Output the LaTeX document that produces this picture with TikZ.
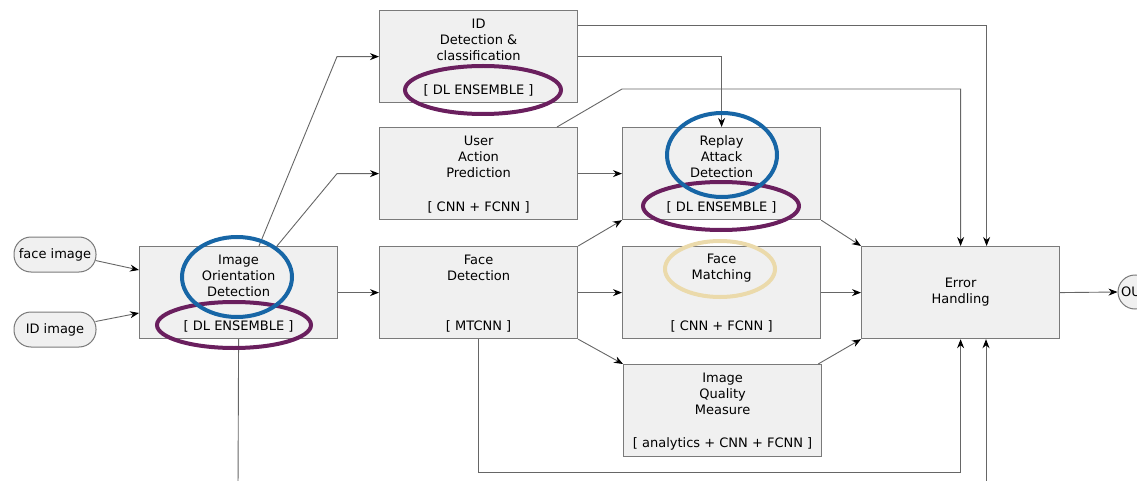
\documentclass[tikz,border=0pt]{standalone}
\usepackage{fontspec}
\setmainfont{DejaVu Sans}
\usetikzlibrary{arrows.meta,calc}
\definecolor{boxfill}{HTML}{F0F0F0}
\definecolor{boxline}{HTML}{7A7A7A}
\definecolor{wirec}{HTML}{666666}
\definecolor{hlblue}{HTML}{1766A6}
\definecolor{hlpurple}{HTML}{6A1F5E}
\definecolor{hltan}{HTML}{EBDAAB}
\begin{document}
\begin{tikzpicture}[x=1pt,y=-1pt,
  stage/.style={draw=boxline, fill=boxfill, line width=1.2pt, minimum width=198pt, minimum height=92pt, anchor=north west, inner sep=0pt},
  pill/.style={draw=boxline, fill=boxfill, line width=1pt, rounded corners=17pt, minimum width=82pt, minimum height=35pt, inner sep=0pt},
  txt/.style={align=center, font=\fontsize{13}{16}\selectfont, inner sep=0pt},
  wire/.style={draw=wirec, line width=0.9pt, -{Stealth[length=9pt,width=7pt,black]}},
  plainwire/.style={draw=wirec, line width=0.9pt},
  hl/.style={line width=4pt}]
\useasboundingbox (0,0) rectangle (1137,481);
\clip (0,0) rectangle (1137,481);

% boxes
\node[stage] (idd) at (379,10) {};
\node[stage] (uap) at (379,127) {};
\node[stage] (rad) at (622,127) {};
\node[stage] (iod) at (139,246) {};
\node[stage] (fd)  at (379,246) {};
\node[stage] (fm)  at (622,246) {};
\node[stage] (eh)  at (861,246) {};
\node[stage] (iqm) at (623,364) {};
\node[pill, txt] (face) at (55,254.5) {face image};
\node[pill, txt] (idimg) at (55,329.5) {ID image};
\node[circle, draw=boxline, fill=boxfill, line width=1pt, minimum size=34pt, txt] (out) at (1135,292) {OUT};

% texts
\node[txt] (iddT) at ($(idd.north)+(0,30)$) {ID\\Detection \&\\classification};
\node[txt] (iddB) at ($(idd.south)+(0,-13)$) {[ DL ENSEMBLE ]};
\node[txt] (uapT) at ($(uap.north)+(0,30)$) {User\\Action\\Prediction};
\node[txt] (uapB) at ($(uap.south)+(0,-13)$) {[ CNN + FCNN ]};
\node[txt] (radT) at ($(rad.north)+(0,30)$) {Replay\\Attack\\Detection};
\node[txt] (radB) at ($(rad.south)+(0,-13)$) {[ DL ENSEMBLE ]};
\node[txt] (iodT) at ($(iod.north)+(0,30)$) {Image\\Orientation\\Detection};
\node[txt] (iodB) at ($(iod.south)+(0,-13)$) {[ DL ENSEMBLE ]};
\node[txt] (fdT) at ($(fd.north)+(0,22)$) {Face\\Detection};
\node[txt] (fdB) at ($(fd.south)+(0,-13)$) {[ MTCNN ]};
\node[txt] (fmT) at ($(fm.north)+(0,22)$) {Face\\Matching};
\node[txt] (fmB) at ($(fm.south)+(0,-13)$) {[ CNN + FCNN ]};
\node[txt] (iqmT) at ($(iqm.north)+(0,30)$) {Image\\Quality\\Measure};
\node[txt] (iqmB) at ($(iqm.south)+(0,-13)$) {[ analytics + CNN + FCNN ]};
\node[txt] (ehT) at (eh.center) {Error\\Handling};

% free ends
\coordinate (iodout) at (238,490);
\coordinate (ehin) at (986,490);

% connectors
\draw[wire] ($(face.east)+(-1,6)$) -- ($(iod.north west)+(0,24)$);
\draw[wire] ($(idimg.east)+(-1,-8)$) -- ($(iod.north west)+(0,67)$);
\draw[wire] ($(iod.north west)+(120,0)$) -- ($(idd.west)+(-42,0)$) -- (idd.west);
\draw[wire] ($(iod.north west)+(138,0)$) -- ($(uap.west)+(-42,0)$) -- (uap.west);
\draw[wire] (iod.east) -- (fd.west);
\draw[plainwire] (iod.south) -- (iodout);
\draw[wire] ($(idd.north east)+(0,15)$) -| ($(eh.north)+(26,0)$);
\draw[wire] (idd.east) -| (rad.north);
\draw[wire] ($(uap.north west)+(178,0)$) -- ($(rad.north west)+(0,-38)$) -| (eh.north);
\draw[wire] (uap.east) -- (rad.west);
\draw[wire] (fd.north east) -- (rad.south west);
\draw[wire] (fd.east) -- (fm.west);
\draw[wire] (fd.south east) -- (iqm.north west);
\draw[wire] (fd.south) |- ($(eh.south)+(0,133)$) -- (eh.south);
\draw[wire] (ehin) -- (ehin |- eh.south);
\draw[wire] (rad.south east) -- (eh.north west);
\draw[wire] (fm.east) -- (eh.west);
\draw[wire] ($(iqm.north east)+(-4,0)$) -- (eh.south west);
\draw[wire] (eh.east) -- (out.west);

% highlight ellipses
\draw[hl, hlpurple] (234,325) ellipse [x radius=77pt, y radius=23pt];
\draw[hl, hlblue] (237,277) ellipse [x radius=55pt, y radius=40pt];
\draw[hl, hlpurple] (483,90) ellipse [x radius=78pt, y radius=24pt];
\draw[hl, hlpurple] (721,206) ellipse [x radius=78pt, y radius=24pt];
\draw[hl, hlblue] (722,155) ellipse [x radius=55pt, y radius=42pt];
\draw[hl, hltan] (720,269) ellipse [x radius=55pt, y radius=28pt];
\end{tikzpicture}
\end{document}
